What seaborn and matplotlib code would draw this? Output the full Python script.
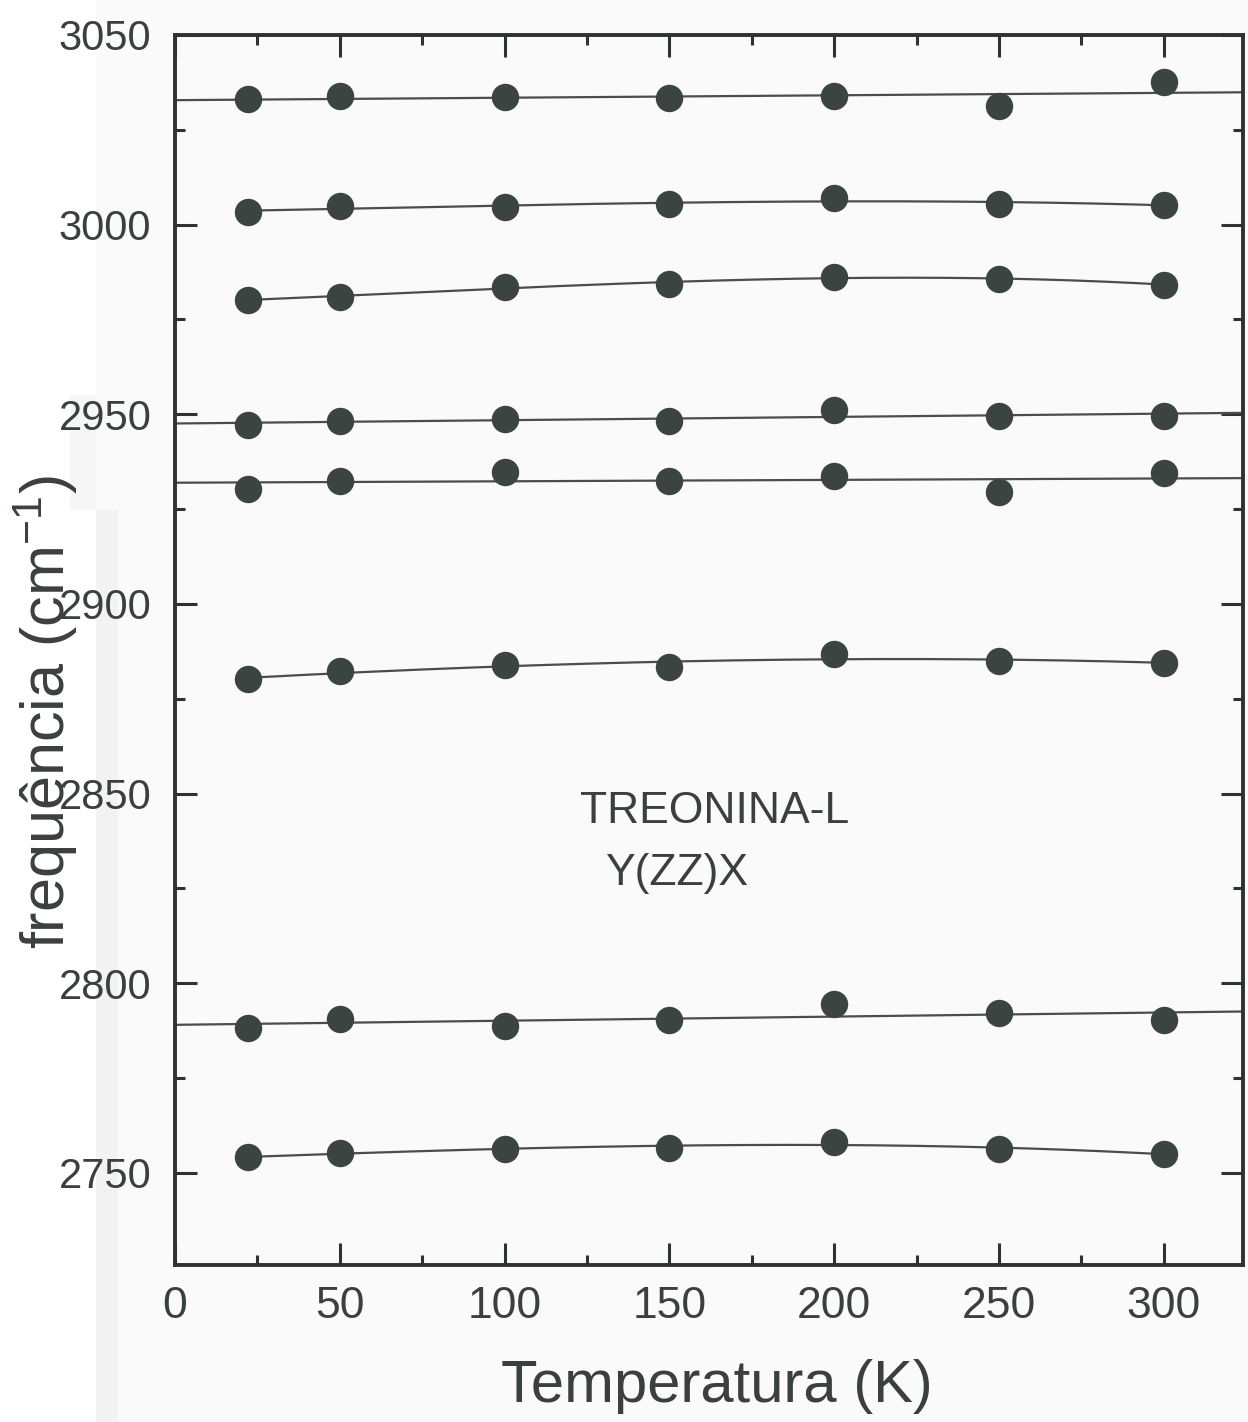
import numpy as np
import pandas as pd
import matplotlib
matplotlib.use("Agg")
import matplotlib.pyplot as plt
import seaborn as sns
from matplotlib.ticker import MultipleLocator
from matplotlib.patches import Rectangle

# ---------------- data ----------------
temperatura = [22, 50, 100, 150, 200, 250, 300]

modo_3033 = [3033.1, 3033.8, 3033.6, 3033.4, 3033.9, 3031.3, 3037.5]
modo_3004 = [3003.4, 3004.8, 3004.7, 3005.4, 3006.9, 3005.5, 3005.2]
modo_2980 = [2980.2, 2981.0, 2983.6, 2984.4, 2986.2, 2985.7, 2984.2]
modo_2947 = [2947.2, 2948.2, 2948.7, 2948.2, 2951.0, 2949.5, 2949.5]
modo_2930 = [2930.2, 2932.5, 2934.9, 2932.4, 2933.6, 2929.6, 2934.5]
modo_2880 = [2880.1, 2882.4, 2883.8, 2883.4, 2886.7, 2884.9, 2884.5]
modo_2788 = [2788.3, 2790.5, 2788.8, 2790.3, 2794.5, 2792.1, 2790.3]
modo_2754 = [2754.1, 2755.2, 2756.4, 2756.6, 2758.1, 2756.2, 2755.0]

# straight (linear) fits across the whole axis vs. smooth curves between points
modos_retos = [modo_3033, modo_2947, modo_2930, modo_2788]
modos_curvos = [modo_3004, modo_2980, modo_2880, modo_2754]

x_ticks = [0, 50, 100, 150, 200, 250, 300]
y_ticks = [2750, 2800, 2850, 2900, 2950, 3000, 3050]

titulo_amostra = "TREONINA-L"
geometria = "Y(ZZ)X"
rotulo_x = "Temperatura (K)"
rotulo_y = "frequência (cm$^{-1}$)"

# ---------------- styling ----------------
sns.set_theme(style="ticks")
plt.rcParams["font.family"] = ["Liberation Sans", "DejaVu Sans"]
plt.rcParams["mathtext.fontset"] = "custom"
plt.rcParams["mathtext.rm"] = "Liberation Sans"
plt.rcParams["mathtext.it"] = "Liberation Sans:italic"
plt.rcParams["mathtext.default"] = "regular"

bg = "#f9faf9"
txt = "#3b3f3e"
axc = "#2e3230"
mcol = "#3c4441"
lcol = "#4a4d4c"

W, H = 1248, 1422
fig = plt.figure(figsize=(W / 100, H / 100), dpi=100, facecolor=bg)

# faint scan-like background bands on the left margin
fig.patches.append(Rectangle((0, 0), 96 / W, 1, transform=fig.transFigure,
                             facecolor="#ffffff", edgecolor="none", zorder=-5))
fig.patches.append(Rectangle((70 / W, 1 - 510 / H), 26 / W, 115 / H,
                             transform=fig.transFigure, facecolor="#f5f6f5",
                             edgecolor="none", zorder=-4))
fig.patches.append(Rectangle((96 / W, 0), 22 / W, 1 - 510 / H,
                             transform=fig.transFigure, facecolor="#f1f2f1",
                             edgecolor="none", zorder=-4))

L, R, T, B = 175, 1243, 35, 1265
ax = fig.add_axes([L / W, 1 - B / H, (R - L) / W, (B - T) / H], facecolor=bg)

XMAX = 324
ax.set_xlim(0, XMAX)
ax.set_ylim(2725.7, 3050)

# lines
x_full = np.linspace(0, XMAX, 100)
for serie in modos_retos:
    coef = np.polyfit(temperatura, serie, 1)
    sns.lineplot(x=x_full, y=np.polyval(coef, x_full), ax=ax, color=lcol,
                 linewidth=1.6, zorder=2)
x_span = np.linspace(min(temperatura), max(temperatura), 200)
for serie in modos_curvos:
    coef = np.polyfit(temperatura, serie, 3)
    sns.lineplot(x=x_span, y=np.polyval(coef, x_span), ax=ax, color=lcol,
                 linewidth=1.6, zorder=2)

# points
todas = modos_retos + modos_curvos
df = pd.DataFrame({
    "T": np.tile(temperatura, len(todas)),
    "freq": np.concatenate(todas),
})
sns.scatterplot(data=df, x="T", y="freq", ax=ax, s=390, color=mcol,
                edgecolor=mcol, linewidth=0, zorder=3, legend=False)

# ticks
ax.set_xticks(x_ticks, labels=[str(v) for v in x_ticks], fontsize=32, color=txt)
ax.set_yticks(y_ticks, labels=[str(v) for v in y_ticks], fontsize=30, color=txt)
ax.xaxis.set_minor_locator(MultipleLocator(25))
ax.yaxis.set_minor_locator(MultipleLocator(25))
ax.tick_params(which="both", direction="in", top=True, right=True,
               width=2.2, color=axc)
ax.tick_params(which="major", length=16)
ax.tick_params(which="minor", length=7)
ax.tick_params(axis="x", which="major", pad=15)
ax.tick_params(axis="y", which="major", pad=17)

for sp in ax.spines.values():
    sp.set_visible(True)
    sp.set_linewidth(2.8)
    sp.set_color(axc)

# labels
ax.set_xlabel(rotulo_x, fontsize=43, color=txt)
ax.xaxis.label.set_va("center")
ax.xaxis.set_label_coords((717 - L) / (R - L), (B - 1387) / (B - T))
ax.set_ylabel(rotulo_y, fontsize=44, color=txt)
ax.yaxis.label.set_va("center")
ax.yaxis.set_label_coords((46 - L) / (R - L), (B - 712) / (B - T))

ax.text(123, 2842.2, titulo_amostra, fontsize=32, color=txt, va="baseline", ha="left")
ax.text(130.5, 2825.9, geometria, fontsize=32, color=txt, va="baseline", ha="left")

fig.savefig("out.png", dpi=100, facecolor=bg)
